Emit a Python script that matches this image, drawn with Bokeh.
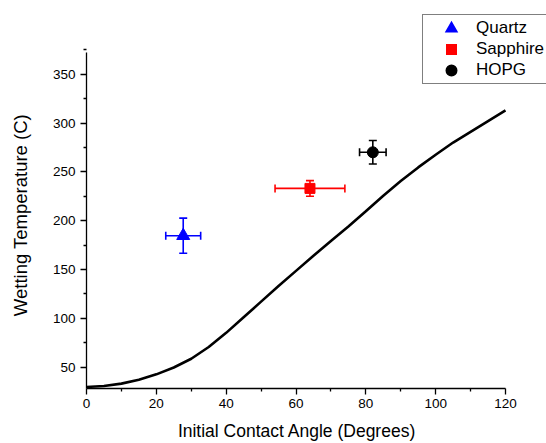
from bokeh.plotting import figure
from bokeh.models import (Range1d, FixedTicker, Whisker, ColumnDataSource,
                          Legend, LegendItem, TeeHead)
from bokeh.embed import file_html
from bokeh.resources import INLINE

# Theoretical curve
curve_angle = [0, 5, 10, 15, 20, 25, 30, 35, 40, 45, 50, 55, 60,
               65, 70, 75, 80, 85, 90, 95, 100, 105, 110, 115, 120]
curve_temp = [29.5, 30.5, 33, 37, 42.5, 49.5, 58.5, 70.5, 85, 101, 117, 133, 148.5,
              164, 179, 194, 209.5, 225.5, 240.5, 254.5, 267.5, 280, 291, 302, 313]

# Measured points
materials = ["Quartz", "Sapphire", "HOPG"]
angle = [27.7, 64.0, 82.0]
angle_err = [5.0, 10.0, 3.8]
temp = [184.5, 233.0, 270.0]
temp_err = [18.0, 8.0, 12.0]
colors = ["#0000FF", "#FF0000", "#000000"]
markers = ["triangle", "square", "circle"]
marker_sizes = [13, 10, 11]
legend_outline = [3.2, 3.0, 4.0]

x_ticks = [0, 20, 40, 60, 80, 100, 120]
x_minor = [10, 30, 50, 70, 90, 110]
y_ticks = [50, 100, 150, 200, 250, 300, 350]
y_minor = [75, 125, 175, 225, 275, 325, 375]
x_axis_span = (0, 120)
y_axis_span = (28, 372.5)

x_title = "Initial Contact Angle (Degrees)"
y_title = "Wetting Temperature (C)"

FONT = "Liberation Sans"
NBSP = "\u00a0"
NAN = float("nan")

# Layout geometry (pixels): the axes cover only part of a larger frame, so the
# legend (which overhangs the axes' top-right corner) is not clipped.
W, H = 546, 443
LEFT, BOTTOM = 86, 53
AXIS_W, AXIS_H = 419, 338
frame_w, frame_h = W - LEFT, H - BOTTOM
x_end = x_axis_span[0] + (x_axis_span[1] - x_axis_span[0]) * frame_w / AXIS_W
y_end = y_axis_span[0] + (y_axis_span[1] - y_axis_span[0]) * frame_h / AXIS_H

p = figure(width=W, height=H, output_backend="svg", toolbar_location=None,
           x_range=Range1d(x_axis_span[0], x_end),
           y_range=Range1d(y_axis_span[0], y_end),
           min_border_left=LEFT, min_border_right=0, min_border_top=0,
           min_border_bottom=BOTTOM)
p.outline_line_color = None
p.xgrid.visible = False
p.ygrid.visible = False
p.background_fill_color = "white"
p.border_fill_color = "white"

p.line(curve_angle, curve_temp, line_width=2.6, line_color="black")

items = []
for i, m in enumerate(materials):
    src = ColumnDataSource(dict(
        x=[angle[i]], y=[temp[i]],
        xl=[angle[i] - angle_err[i]], xu=[angle[i] + angle_err[i]],
        yl=[temp[i] - temp_err[i]], yu=[temp[i] + temp_err[i]],
    ))
    c = colors[i]
    wy = Whisker(source=src, base="x", lower="yl", upper="yu", dimension="height",
                 line_color=c, line_width=1.6,
                 upper_head=TeeHead(size=8, line_color=c, line_width=1.6),
                 lower_head=TeeHead(size=8, line_color=c, line_width=1.6))
    wx = Whisker(source=src, base="y", lower="xl", upper="xu", dimension="width",
                 line_color=c, line_width=1.6,
                 upper_head=TeeHead(size=8, line_color=c, line_width=1.6),
                 lower_head=TeeHead(size=8, line_color=c, line_width=1.6))
    p.add_layout(wy)
    p.add_layout(wx)
    p.scatter("x", "y", source=src, marker=markers[i], size=marker_sizes[i],
              fill_color=c, line_color=c)
    # legend-only renderer (a NaN point, not drawn): thicker outline makes the
    # legend symbol larger
    lr = p.scatter(x=[NAN], y=[NAN], marker=markers[i], size=marker_sizes[i],
                   fill_color=c, line_color=c, line_width=legend_outline[i],
                   line_join="miter")
    items.append(LegendItem(label=m, renderers=[lr]))

for ax in (p.xaxis[0], p.yaxis[0]):
    ax.axis_line_color = "black"
    ax.axis_line_width = 1.3
    ax.major_tick_line_color = "black"
    ax.minor_tick_line_color = "black"
    ax.major_tick_line_width = 1.3
    ax.minor_tick_line_width = 1.3
    ax.major_tick_out = 6
    ax.major_tick_in = 0
    ax.minor_tick_out = 3
    ax.minor_tick_in = 0
    ax.major_label_text_font = FONT
    ax.major_label_text_font_size = "13.5px"
    ax.major_label_text_color = "black"
    ax.axis_label_text_font = FONT
    ax.axis_label_text_font_style = "normal"
    ax.axis_label_text_color = "black"

p.xaxis.bounds = x_axis_span
p.yaxis.bounds = y_axis_span
p.xaxis.ticker = FixedTicker(ticks=x_ticks, minor_ticks=x_minor)
p.yaxis.ticker = FixedTicker(ticks=y_ticks, minor_ticks=y_minor)
# axis titles are centred on the (larger) frame; trailing no-break spaces shift
# the visible text back to the centre of the drawn axes
p.xaxis.axis_label = x_title + NBSP * 8
p.yaxis.axis_label = y_title + NBSP * 8
p.xaxis.axis_label_text_font_size = "17.5px"
p.yaxis.axis_label_text_font_size = "18.5px"
p.xaxis.major_label_standoff = 4
p.xaxis.axis_label_standoff = 10
p.xaxis.axis_label_text_line_height = 0.8
p.yaxis.major_label_standoff = 5
p.yaxis.axis_label_standoff = 19

legend = Legend(items=items, location=(336, 304), orientation="vertical",
                margin=0, padding=3, spacing=1,
                glyph_width=50, glyph_height=20, label_height=20, label_standoff=0,
                label_text_font=FONT, label_text_font_size="17px",
                label_text_color="black",
                border_line_color="black", border_line_width=1.2,
                background_fill_color="white", background_fill_alpha=1.0)
p.add_layout(legend)

open("out.html", "w").write(file_html(p, INLINE))
